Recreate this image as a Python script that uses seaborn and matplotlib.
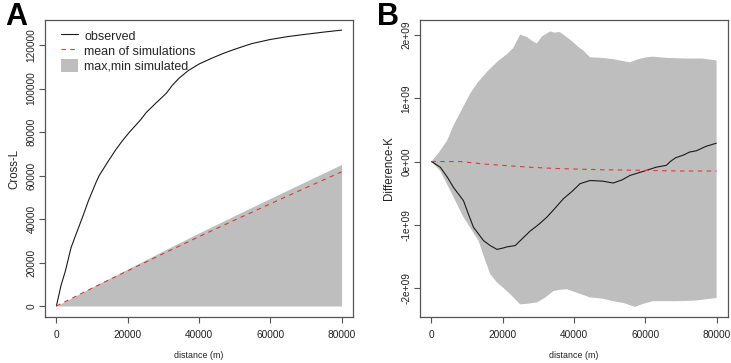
import numpy as np
import pandas as pd
import seaborn as sns
import matplotlib
matplotlib.use('Agg')
import matplotlib.pyplot as plt
from matplotlib.lines import Line2D
from matplotlib.patches import Patch
from matplotlib.ticker import FuncFormatter

# ---- panel A: Cross-L ----
obs_a_x = [0, 1300, 2500, 4100, 5500, 7400, 9000, 11100, 12000, 14500, 16700, 18500, 20400,
           23700, 25200, 28000, 30800, 32500, 34400, 37000, 40000, 43600, 47000, 50000,
           54800, 60000, 65200, 70000, 75000, 80000]
obs_a_y = [0, 9500, 16000, 26800, 33000, 41200, 48500, 56800, 60000, 66500, 72000, 76000, 79800,
           85800, 89000, 93500, 97800, 101500, 104800, 108300, 111300, 114000, 116300, 118100,
           120700, 122600, 124000, 125000, 126000, 126900]

mean_a_x = [0, 10000, 20000, 30000, 40000, 50000, 60000, 70000, 80000]
mean_a_y = [0, 8200, 16200, 24100, 31900, 39500, 47000, 54400, 61700]

env_a_x = [0, 10000, 20000, 30000, 40000, 50000, 60000, 70000, 80000]
env_a_hi = [0, 8700, 17000, 25400, 33600, 41600, 49500, 57300, 65100]
env_a_lo = [0, 0, 0, 0, 0, 0, 0, 0, 0]

# ---- panel B: Difference-K (units of 1e9) ----
env_b_hi_x = [0, 2200, 4400, 6200, 8500, 10900, 13000, 15600, 18500, 21200, 23000, 24900, 26800,
              28500, 29600, 31000, 33300, 34500, 36000, 38900, 41500, 42600, 44500, 48000,
              51000, 53800, 55700, 58000, 60300, 62200, 66000, 71500, 76000, 79900, 80000]
env_b_hi_y = [0, 0.15, 0.33, 0.57, 0.82, 1.08, 1.25, 1.42, 1.58, 1.70, 1.80, 2.01, 1.97,
              1.90, 1.87, 1.98, 2.06, 2.04, 2.05, 1.93, 1.80, 1.76, 1.65, 1.64,
              1.62, 1.59, 1.57, 1.62, 1.65, 1.66, 1.64, 1.63, 1.63, 1.60, 1.60]
env_b_lo_x = [0, 2500, 5300, 9000, 13200, 15000, 16500, 18500, 20200, 22500, 24900, 27000,
              29600, 32000, 34200, 36000, 38000, 40000, 44500, 48000, 51000, 54000, 57100,
              59500, 62200, 68700, 74000, 79900, 80000]
env_b_lo_y = [0, -0.15, -0.46, -0.88, -1.25, -1.55, -1.78, -1.92, -2.00, -2.12, -2.26, -2.25,
              -2.23, -2.15, -2.05, -2.03, -2.02, -2.06, -2.15, -2.17, -2.21, -2.24, -2.30,
              -2.25, -2.21, -2.21, -2.20, -2.16, -2.16]

obs_b_x = [0, 2500, 4500, 6200, 9000, 10500, 11800, 14600, 16500, 18400, 20000, 21200, 23500,
           25500, 27700, 30000, 32400, 34500, 37000, 39500, 41700, 44500, 48000, 51000, 53500,
           55700, 58000, 60300, 63000, 65900, 67000, 68500, 70600, 72400, 74300, 77000, 79900]
obs_b_y = [0, -0.09, -0.25, -0.41, -0.62, -0.85, -1.04, -1.25, -1.33, -1.39, -1.37, -1.35, -1.33,
           -1.22, -1.10, -1.00, -0.88, -0.75, -0.59, -0.47, -0.35, -0.30, -0.31, -0.34, -0.29,
           -0.22, -0.18, -0.14, -0.09, -0.06, 0.0, 0.06, 0.10, 0.15, 0.17, 0.24, 0.29]

mean_b_x = [0, 8100, 15000, 20000, 27700, 35000, 48200, 60000, 70000, 80000]
mean_b_y = [0, 0.0, -0.04, -0.06, -0.09, -0.11, -0.13, -0.14, -0.15, -0.15]

x_ticks = [0, 20000, 40000, 60000, 80000]
ya_ticks = [0, 20000, 40000, 60000, 80000, 100000, 120000]
yb_ticks = [-2e9, -1e9, 0, 1e9, 2e9]

GREY = '#bebebe'
RED = '#dd3838'
OBS = '#1a1a1a'
BOX = '#555555'
TXT = '#222222'

sns.set_style("ticks")
plt.rcParams['font.family'] = ['Liberation Sans', 'DejaVu Sans']

fig = plt.figure(figsize=(7.31, 3.63), dpi=100)
ax_a = fig.add_axes([45/731, 1-317/363, 308/731, 297/363])
ax_b = fig.add_axes([420/731, 1-317/363, 308/731, 297/363])

# panel A
ax_a.fill_between(env_a_x, env_a_lo, env_a_hi, color=GREY, linewidth=0)
sns.lineplot(x=obs_a_x, y=obs_a_y, ax=ax_a, color=OBS, linewidth=0.8)
sns.lineplot(x=mean_a_x, y=mean_a_y, ax=ax_a, color=RED, linewidth=0.8,
             linestyle=(0, (4, 4)))
ax_a.set_xlim(-3200, 83200)
ax_a.set_ylim(-5060, 131560)
ax_a.set_yticks(ya_ticks)
ax_a.set_ylabel("Cross-L")

# panel B
env_b = pd.DataFrame({'x': env_b_hi_x + env_b_lo_x[::-1],
                      'y': list(np.array(env_b_hi_y) * 1e9) + list(np.array(env_b_lo_y[::-1]) * 1e9)})
ax_b.fill(env_b['x'], env_b['y'], color=GREY, linewidth=0)
sns.lineplot(x=obs_b_x, y=np.array(obs_b_y) * 1e9, ax=ax_b, color=OBS, linewidth=0.8)
sns.lineplot(x=mean_b_x, y=np.array(mean_b_y) * 1e9, ax=ax_b, color=RED, linewidth=0.8,
             linestyle=(0, (4, 4)))
ax_b.set_xlim(-3200, 83200)
ax_b.set_ylim(-2.46e9, 2.24e9)
ax_b.set_yticks(yb_ticks)
ax_b.yaxis.set_major_formatter(FuncFormatter(lambda v, p: "%.0e" % v if v != 0 else "0e+00"))
ax_b.set_ylabel("Difference-K")

for ax in (ax_a, ax_b):
    ax.set_xticks(x_ticks)
    ax.set_xlabel("distance (m)", fontsize=6.4, color=TXT)
    ax.xaxis.set_label_coords(0.5, -0.115)
    ax.yaxis.label.set_fontsize(8.3)
    ax.yaxis.label.set_color(TXT)
    ax.yaxis.set_label_coords(-0.08, 0.5)
    for s in ax.spines.values():
        s.set_visible(True)
        s.set_color(BOX)
        s.set_linewidth(0.9)
    ax.tick_params(axis='both', direction='out', length=4, width=0.8, color=BOX,
                   labelsize=7.3, labelcolor=TXT)
    ax.tick_params(axis='x', pad=5)
    ax.tick_params(axis='y', labelrotation=90, pad=2)
    for lab in ax.get_yticklabels():
        lab.set_va('center')

handles = [Line2D([], [], color=OBS, linewidth=0.8),
           Line2D([], [], color=RED, linewidth=0.8, linestyle=(0, (4, 4))),
           Patch(facecolor=GREY, edgecolor='none')]
ax_a.legend(handles, ["observed", "mean of simulations", "max,min simulated"],
            loc='upper left', bbox_to_anchor=(16/308, 1-9/297), frameon=False,
            fontsize=9, handlelength=1.35, handleheight=1.2, handletextpad=0.5,
            labelspacing=0.12, borderaxespad=0, borderpad=0)

fig.text(5/731, 1-25/363, "A", fontsize=22, fontweight='bold', va='baseline', color='black')
fig.text(377/731, 1-25/363, "B", fontsize=22, fontweight='bold', va='baseline', color='black')

fig.savefig("out.png", dpi=100)
